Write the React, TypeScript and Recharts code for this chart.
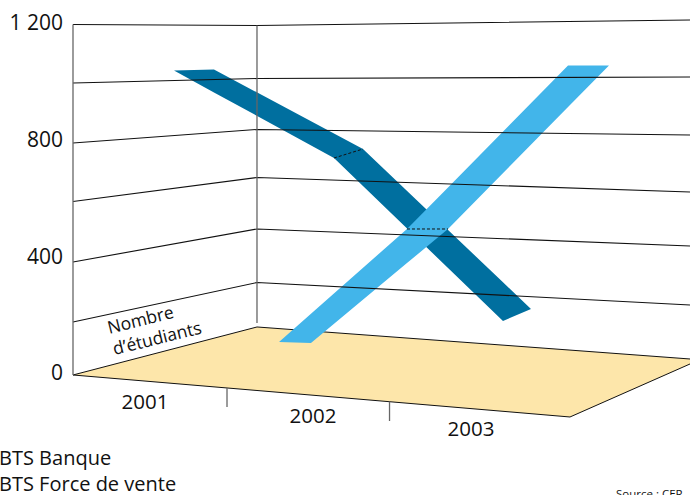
import { ComposedChart, Area, Line, XAxis, YAxis, Legend, ReferenceDot } from 'recharts';

const FONT = '"Open Sans", sans-serif';

// x is a position along the floor (0 = left wall, 100 = right edge of the picture)
const years = ['2001', '2002', '2003'];
const yearPositions = [11.67, 38.9, 64.5];
const yearDrops = [93, 79, 66];

const valueTicks = [0, 400, 800, 1200];
const seriesNames = ['BTS Banque', 'BTS Force de vente'];
const sourceText = 'Source : CER';

// wall grid lines: left edge, back corner, right edge
const wallX = [0, 29.82, 100];
const wall200 = [181.5, 316.7, 239.7];
const wall400 = [386.9, 499.9, 441.7];
const wall600 = [594, 676.2, 626.6];
const wall800 = [794.4, 840.6, 821.8];
const wall1000 = [999.8, 1015.2, 1020.4];
const wall1200 = [1200, 1196.7, 1215.5];
const wallLevels = [wall200, wall400, wall600, wall800, wall1000, wall1200];

const floorX = [0, 29.82, 80.55, 100];
const floorBack = [0, 164.4, 85.3, 54.8];
const floorFront = [0, -53.1, -143.8, 37.7];

const banqueX = [16.37, 22.85, 42.3, 47.0, 69.69, 74.23];
const banqueUpper = [1042.6, 1046, 826.9, 773.8, 317.4, 226];
const banqueLower = [1042.6, 967.6, 743, 647.1, 184.9, 226];

const venteX = [33.39, 38.57, 54.13, 60.78, 80.23, 86.87];
const venteUpper = [113, 209.7, 499.9, 642.3, 1059.7, 1059.7];
const venteLower = [113, 109.6, 383.1, 499.9, 917.3, 1059.7];

const pairs = (xs: number[], ys: number[]) => xs.map((x, i) => ({ x, y: ys[i] }));
const ribbon = (xs: number[], upper: number[], lower: number[]) =>
  xs.map((x, i) => ({ x, range: [lower[i], upper[i]] }));

const wallLines = wallLevels.map(level => pairs(wallX, level));
const verticals = [
  [{ x: 0, y: 1200 }, { x: 0, y: 0 }],
  [{ x: 29.82, y: 1196.7 }, { x: 29.82, y: 178 }],
  [{ x: 24.96, y: -44.5 }, { x: 24.96, y: -109.6 }],
  [{ x: 51.3, y: -90.7 }, { x: 51.3, y: -157.5 }],
];
const banqueFold = [{ x: banqueX[2], y: banqueLower[2] }, { x: banqueX[3], y: banqueUpper[3] }];
const venteFold = [{ x: venteX[2], y: venteUpper[2] }, { x: venteX[3], y: venteLower[3] }];

const YearTick = ({ x, y, payload }: any) => {
  const i = yearPositions.indexOf(payload.value);
  return (
    <text x={x} y={y - yearDrops[i]} textAnchor="middle" fontFamily={FONT} fontSize={20.5} fill="#111">
      {years[i]}
    </text>
  );
};

const TitleLine = ({ cx, cy, text }: any) => (
  <text
    x={cx}
    y={cy}
    textAnchor="middle"
    dominantBaseline="central"
    fontFamily={FONT}
    fontSize={17.5}
    fill="#111"
    transform={`rotate(-14 ${cx} ${cy})`}
  >
    {text}
  </text>
);

const LegendText = () => (
  <div style={{ fontFamily: FONT, fontSize: 20, lineHeight: '25.5px', color: '#111', whiteSpace: 'nowrap' }}>
    {seriesNames.map(name => <div key={name}>{name}</div>)}
  </div>
);

export default function App() {
  return (
    <div style={{ position: 'absolute', left: 0, top: 0, width: 690, height: 495, overflow: 'hidden' }}>
      <ComposedChart width={690} height={495} margin={{ top: 0, right: 0, bottom: 0, left: 0 }}>
        <XAxis
          type="number"
          dataKey="x"
          domain={[0, 100]}
          ticks={yearPositions}
          tick={<YearTick />}
          height={1}
          axisLine={false}
          tickLine={false}
          interval={0}
        />
        <YAxis
          type="number"
          domain={[-407.5, 1284]}
          ticks={valueTicks}
          width={73}
          axisLine={false}
          tickLine={false}
          tickSize={0}
          tickMargin={10}
          interval={0}
          tickFormatter={(v: number) => (v === 1200 ? '1 200' : String(v))}
          tick={{ fontFamily: FONT, fontSize: 21, fill: '#111', dy: -2 }}
        />
        {wallLines.map((d, i) => (
          <Line key={i} data={d} dataKey="y" stroke="#111" strokeWidth={1.1} dot={false} legendType="none" isAnimationActive={false} />
        ))}
        {verticals.map((d, i) => (
          <Line key={i} data={d} dataKey="y" stroke="#666" strokeWidth={1.3} dot={false} legendType="none" isAnimationActive={false} />
        ))}
        <Area
          data={ribbon(floorX, floorBack, floorFront)}
          dataKey="range"
          type="linear"
          fill="#fde6aa"
          fillOpacity={1}
          stroke="#111"
          strokeWidth={1}
          legendType="none"
          isAnimationActive={false}
        />
        <Area
          data={ribbon(banqueX, banqueUpper, banqueLower)}
          dataKey="range"
          name={seriesNames[0]}
          type="linear"
          fill="#006f9f"
          fillOpacity={1}
          stroke="none"
          legendType="none"
          isAnimationActive={false}
        />
        <Area
          data={ribbon(venteX, venteUpper, venteLower)}
          dataKey="range"
          name={seriesNames[1]}
          type="linear"
          fill="#42b5ea"
          fillOpacity={1}
          stroke="none"
          legendType="none"
          isAnimationActive={false}
        />
        <Line data={banqueFold} dataKey="y" stroke="#111" strokeWidth={1} strokeDasharray="3 2" dot={false} legendType="none" isAnimationActive={false} />
        <Line data={venteFold} dataKey="y" stroke="#111" strokeWidth={1} strokeDasharray="3 2" dot={false} legendType="none" isAnimationActive={false} />
        <ReferenceDot x={10.9} y={192} r={0} shape={(p: any) => <TitleLine {...p} text="Nombre" />} />
        <ReferenceDot x={13.6} y={129} r={0} shape={(p: any) => <TitleLine {...p} text="d’étudiants" />} />
        <Legend
          layout="horizontal"
          align="center"
          verticalAlign="middle"
          content={<LegendText />}
          wrapperStyle={{ position: 'absolute', left: -1, top: 445, width: 300 }}
        />
      </ComposedChart>
      <div style={{ position: 'absolute', left: 616, top: 486, fontFamily: FONT, fontSize: 11.5, color: '#111', whiteSpace: 'nowrap' }}>
        {sourceText}
      </div>
    </div>
  );
}
